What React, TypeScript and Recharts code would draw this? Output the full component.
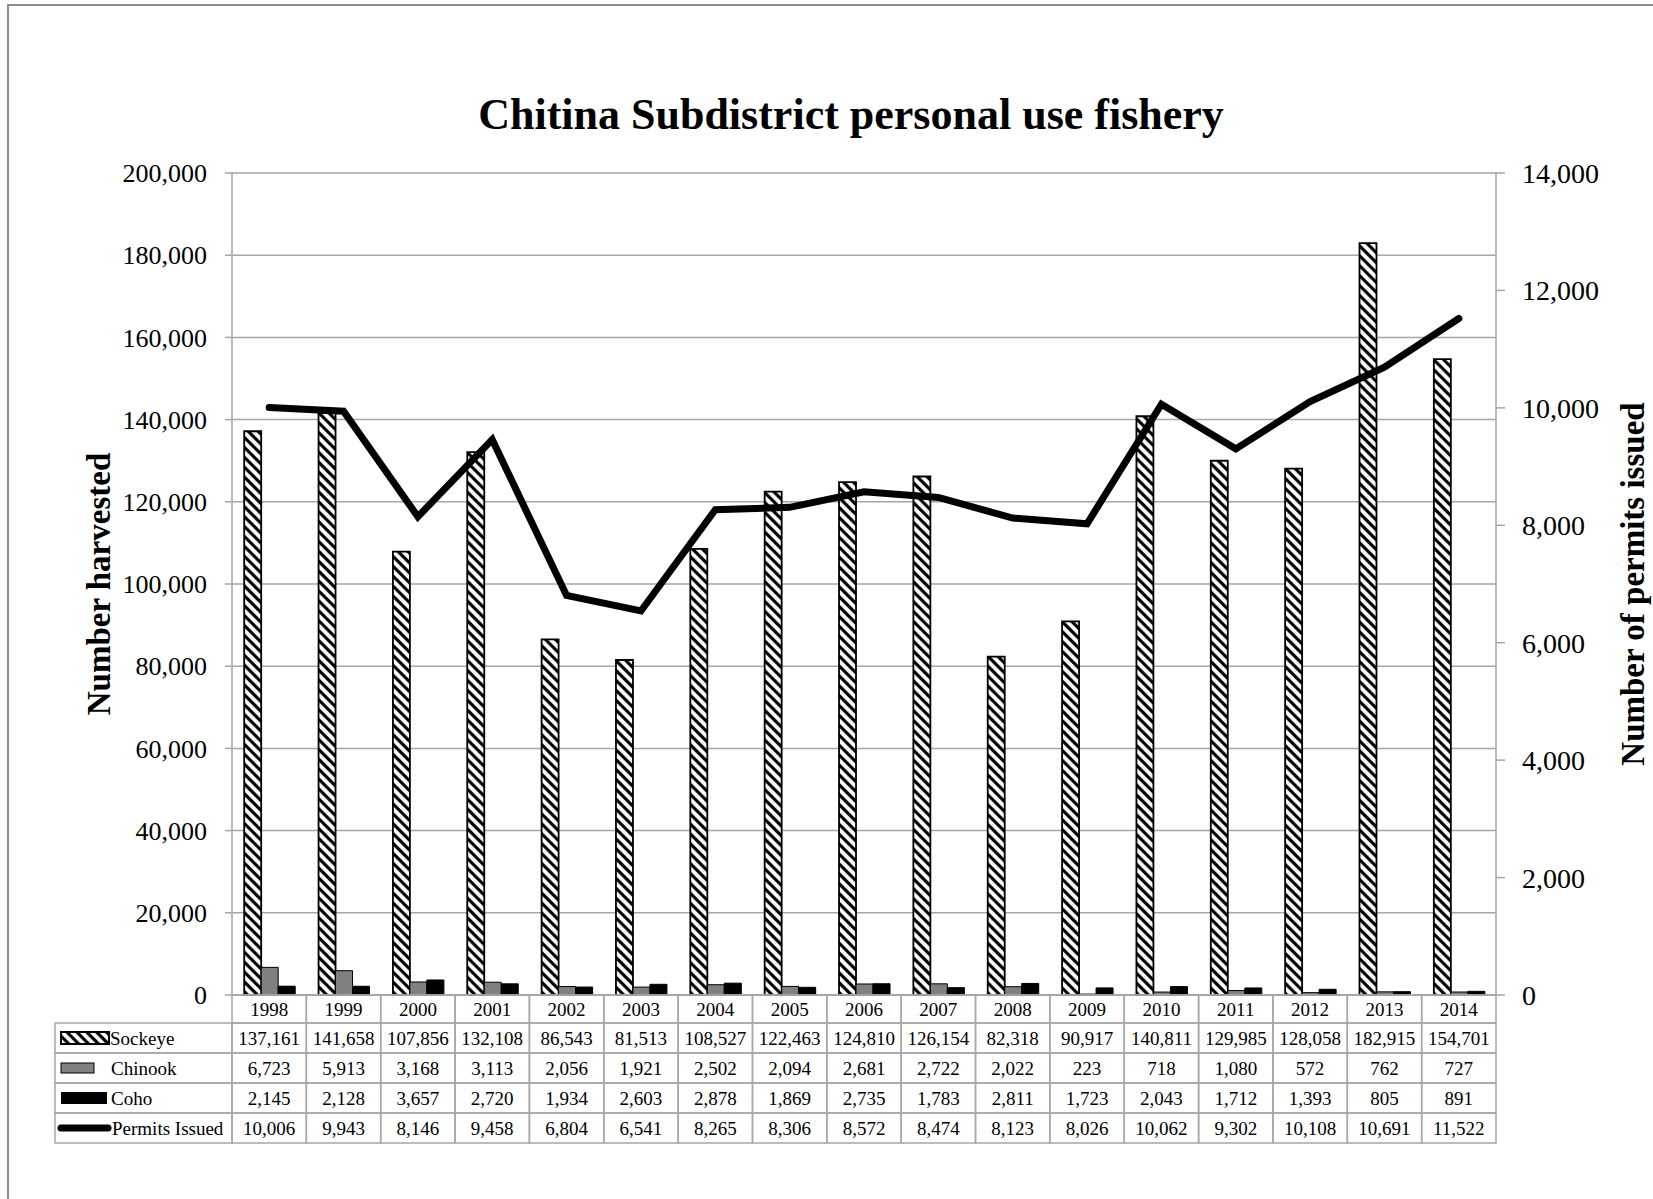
import React from 'react';
import { ComposedChart, Bar, Line, XAxis, YAxis, CartesianGrid, Label } from 'recharts';

const YEARS = ['1998', '1999', '2000', '2001', '2002', '2003', '2004', '2005', '2006', '2007', '2008', '2009', '2010', '2011', '2012', '2013', '2014'];
const SOCKEYE = [137161, 141658, 107856, 132108, 86543, 81513, 108527, 122463, 124810, 126154, 82318, 90917, 140811, 129985, 128058, 182915, 154701];
const CHINOOK = [6723, 5913, 3168, 3113, 2056, 1921, 2502, 2094, 2681, 2722, 2022, 223, 718, 1080, 572, 762, 727];
const COHO = [2145, 2128, 3657, 2720, 1934, 2603, 2878, 1869, 2735, 1783, 2811, 1723, 2043, 1712, 1393, 805, 891];
const PERMITS = [10006, 9943, 8146, 9458, 6804, 6541, 8265, 8306, 8572, 8474, 8123, 8026, 10062, 9302, 10108, 10691, 11522];

const HARVEST_TICKS = [0, 20000, 40000, 60000, 80000, 100000, 120000, 140000, 160000, 180000, 200000];
const PERMIT_TICKS = [0, 2000, 4000, 6000, 8000, 10000, 12000, 14000];

const data = YEARS.map((year, i) => ({
  year,
  sockeye: SOCKEYE[i],
  chinook: CHINOOK[i],
  coho: COHO[i],
  permits: PERMITS[i],
}));

// layout (px)
const W = 1653;
const H = 1199;
const PLOT_L = 232;
const PLOT_R = 1496;
const PLOT_T = 173;
const PLOT_B = 995;
const YEAR_ROW = 28;
const ROW = 30;
const TABLE_L = 55;
const AXIS_W = 100;
const BAND = (PLOT_R - PLOT_L) / YEARS.length;

const FONT = '"Liberation Serif", "Times New Roman", serif';
const GRID = '#a6a6a6';
const fmt = (v: number) => v.toLocaleString('en-US');

type RowKey = 'sockeye' | 'chinook' | 'coho' | 'permits';

// axis ids sort alphabetically in recharts, so prefix them to keep table row order
const ROWS: { key: RowKey; axisId: string; name: string; textX: number }[] = [
  { key: 'sockeye', axisId: 'b_sockeye', name: 'Sockeye', textX: 110 },
  { key: 'chinook', axisId: 'c_chinook', name: 'Chinook', textX: 111 },
  { key: 'coho', axisId: 'd_coho', name: 'Coho', textX: 111 },
  { key: 'permits', axisId: 'e_permits', name: 'Permits Issued', textX: 112 },
];

function Swatch({ kind, cy }: { kind: RowKey; cy: number }) {
  if (kind === 'sockeye')
    return <rect x={61} y={cy - 6} width={48} height={12} fill="url(#hatch)" stroke="#000" strokeWidth={2} />;
  if (kind === 'chinook')
    return <rect x={61} y={cy - 5} width={33} height={10} fill="#808080" stroke="#000" strokeWidth={1} />;
  if (kind === 'coho') return <rect x={61} y={cy - 6} width={46} height={12} fill="#000" />;
  return <line x1={61} x2={108} y1={cy} y2={cy} stroke="#000" strokeWidth={7} strokeLinecap="round" />;
}

const yearTick = (props: any) => {
  const { x, y, index } = props;
  return (
    <g>
      <rect x={x - BAND / 2} y={y} width={BAND} height={YEAR_ROW} fill="none" stroke={GRID} strokeWidth={1.5} />
      <text x={x} y={y + YEAR_ROW / 2} textAnchor="middle" dominantBaseline="central" fontFamily={FONT} fontSize={19} fill="#000">
        {YEARS[index]}
      </text>
    </g>
  );
};

const rowTick = (row: (typeof ROWS)[number]) => (props: any) => {
  const { x, y, index } = props;
  const cy = y + ROW / 2;
  return (
    <g>
      <rect x={x - BAND / 2} y={y} width={BAND} height={ROW} fill="none" stroke={GRID} strokeWidth={1.5} />
      <text x={x} y={cy} textAnchor="middle" dominantBaseline="central" fontFamily={FONT} fontSize={19} fill="#000">
        {fmt(data[index][row.key])}
      </text>
      {index === 0 && (
        <g>
          <rect x={TABLE_L} y={y} width={PLOT_L - TABLE_L} height={ROW} fill="none" stroke={GRID} strokeWidth={1.5} />
          <Swatch kind={row.key} cy={cy} />
          <text x={row.textX} y={cy} dominantBaseline="central" fontFamily={FONT} fontSize={19} fill="#000">
            {row.name}
          </text>
        </g>
      )}
    </g>
  );
};

export default function App() {
  const tableH = YEAR_ROW + ROW * ROWS.length;
  return (
    <div style={{ position: 'absolute', left: 0, top: 0, width: W, height: H, overflow: 'hidden', background: '#fff' }}>
      <svg width={W} height={H} style={{ position: 'absolute', left: 0, top: 0 }}>
        <defs>
          <pattern id="hatch" patternUnits="userSpaceOnUse" width={7} height={7} patternTransform="rotate(-45)">
            <rect width={7} height={7} fill="#fff" />
            <line x1={3.5} y1={0} x2={3.5} y2={7} stroke="#000" strokeWidth={3.2} />
          </pattern>
        </defs>
        <rect x={8} y={5} width={W + 50} height={H + 50} fill="none" stroke="#8c8c8c" strokeWidth={2} />
        <text x={851} y={129} textAnchor="middle" fontFamily={FONT} fontWeight="bold" fontSize={44} fill="#000">
          Chitina Subdistrict personal use fishery
        </text>
      </svg>
      <div style={{ position: 'absolute', left: 0, top: 0 }}>
        <ComposedChart
          width={W}
          height={H}
          data={data}
          margin={{ top: PLOT_T, left: PLOT_L - AXIS_W, right: W - PLOT_R - AXIS_W, bottom: H - PLOT_B - tableH }}
          barCategoryGap="16.4%"
          barGap={0}
        >
          <CartesianGrid yAxisId="left" xAxisId="a_year" vertical={false} stroke={GRID} strokeWidth={1.5} />
          <XAxis
            xAxisId="a_year"
            dataKey="year"
            height={YEAR_ROW}
            interval={0}
            tickSize={0}
            tickMargin={0}
            axisLine={{ stroke: GRID, strokeWidth: 1.5 }}
            tickLine={false}
            tick={yearTick}
          />
          {ROWS.map((row) => (
            <XAxis
              key={row.key}
              xAxisId={row.axisId}
              dataKey="year"
              height={ROW}
              interval={0}
              tickSize={0}
              tickMargin={0}
              axisLine={false}
              tickLine={false}
              tick={rowTick(row)}
            />
          ))}
          <YAxis
            yAxisId="left"
            width={AXIS_W}
            domain={[0, 200000]}
            ticks={HARVEST_TICKS}
            tickFormatter={fmt}
            tickSize={7}
            tickMargin={18}
            axisLine={{ stroke: GRID, strokeWidth: 1.5 }}
            tickLine={{ stroke: GRID, strokeWidth: 1.5 }}
            tick={{ fontFamily: FONT, fontSize: 26, fill: '#000' }}
          >
            <Label
              value="Number harvested"
              angle={-90}
              position="center"
              dx={-84}
              style={{ fontFamily: FONT, fontSize: 33, fontWeight: 'bold', fill: '#000' }}
            />
          </YAxis>
          <YAxis
            yAxisId="right"
            orientation="right"
            width={AXIS_W}
            domain={[0, 14000]}
            ticks={PERMIT_TICKS}
            tickFormatter={fmt}
            tickSize={9}
            tickMargin={17}
            axisLine={{ stroke: GRID, strokeWidth: 1.5 }}
            tickLine={{ stroke: GRID, strokeWidth: 1.5 }}
            tick={{ fontFamily: FONT, fontSize: 28, fill: '#000', textAnchor: 'start' }}
          >
            <Label
              value="Number of permits issued"
              angle={-90}
              position="center"
              dx={86}
              style={{ fontFamily: FONT, fontSize: 33, fontWeight: 'bold', fill: '#000' }}
            />
          </YAxis>
          <Bar xAxisId="a_year" yAxisId="left" dataKey="sockeye" fill="url(#hatch)" stroke="#000" strokeWidth={1.8} isAnimationActive={false} />
          <Bar xAxisId="a_year" yAxisId="left" dataKey="chinook" fill="#808080" stroke="#000" strokeWidth={1} isAnimationActive={false} />
          <Bar xAxisId="a_year" yAxisId="left" dataKey="coho" fill="#000" stroke="#000" strokeWidth={1} isAnimationActive={false} />
          <Line
            xAxisId="a_year"
            yAxisId="right"
            dataKey="permits"
            type="linear"
            stroke="#000"
            strokeWidth={7}
            strokeLinecap="round"
            dot={false}
            activeDot={false}
            isAnimationActive={false}
          />
        </ComposedChart>
      </div>
    </div>
  );
}
